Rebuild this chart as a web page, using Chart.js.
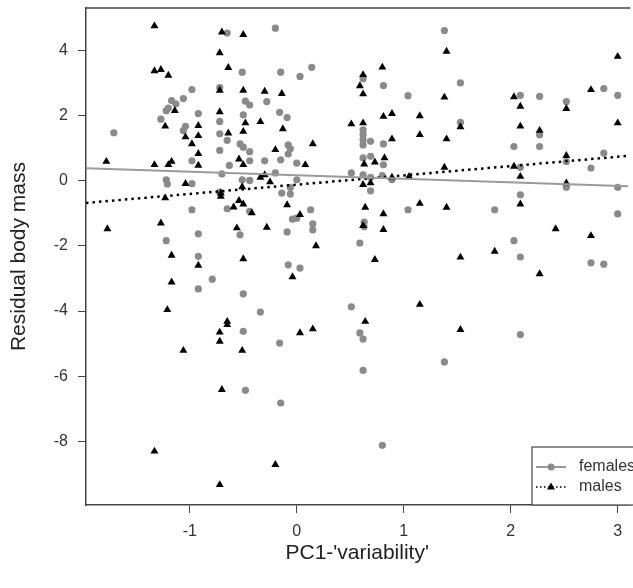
<!DOCTYPE html>
<html>
<head>
<meta charset="utf-8">
<title>Residual body mass vs PC1</title>
<script src="https://cdn.jsdelivr.net/npm/chart.js@4.4.1/dist/chart.umd.min.js"></script>
<style>
  html, body { margin: 0; padding: 0; background: #fff; }
  #wrap { width: 633px; height: 588px; }
</style>
</head>
<body>
<div id="wrap"><canvas id="scatterChart"></canvas></div>
<script>
// Data: [PC1, residual body mass]
const femalePoints = [
  [-0.65,4.53],[-0.51,3.33],[-0.98,2.80],[-0.72,2.86],[-1.06,2.52],[-1.17,2.46],[-1.13,2.36],
  [-1.20,2.23],[-1.22,2.15],[-0.48,2.44],[-0.44,2.32],[-0.28,2.43],[-0.92,2.06],[-0.50,2.02],
  [-1.27,1.89],[-0.72,1.82],[-1.04,1.67],[-1.06,1.54],[-1.71,1.47],[-0.72,1.44],[-0.65,1.24],
  [-0.53,1.13],[-0.50,1.03],[-0.44,0.89],[-0.72,0.93],[-0.98,0.61],[-0.63,0.47],[-0.44,0.61],
  [-0.30,0.61],
  [-0.20,4.68],[1.38,4.61],[-0.15,3.33],[0.03,3.20],[0.14,3.48],[0.62,3.13],[0.81,2.92],
  [1.04,2.61],[-0.16,2.10],[-0.09,1.94],[0.62,1.56],[0.62,1.41],[0.62,1.26],[0.62,1.10],
  [0.69,1.21],[0.81,1.13],[-0.08,1.10],[-0.06,0.98],[-0.08,0.82],[-0.15,0.64],[0.00,0.54],
  [0.62,0.70],[0.69,0.75],[0.81,0.49],
  [1.53,3.00],[2.09,2.62],[2.27,2.59],[2.87,2.83],[3.00,2.62],[2.52,2.43],[1.53,1.79],
  [2.27,1.41],[2.03,1.05],[2.27,1.05],[2.87,0.85],[2.52,0.59],[2.09,0.41],[2.75,0.39],
  [-1.22,0.03],[-1.21,-0.10],[-0.98,-0.09],[-0.70,0.21],[-0.51,0.03],[-0.44,0.01],[-0.72,-0.35],
  [-0.65,-0.86],[-0.44,-0.94],[-0.98,-0.89],[-0.92,-1.63],[-0.53,-1.66],[-1.22,-1.84],
  [-0.92,-2.32],[-0.79,-3.02],[-0.92,-3.32],[-0.50,-3.47],[-0.34,-4.03],[-0.50,-4.62],
  [-0.20,0.24],[0.00,0.03],[0.51,0.24],[0.62,0.18],[0.69,0.10],[0.80,0.16],[0.89,0.03],
  [0.69,-0.31],[-0.06,-0.21],[-0.14,-0.38],[-0.06,-0.41],[0.13,-0.89],[-0.04,-1.18],
  [0.00,-1.15],[0.15,-1.32],[0.15,-1.51],[-0.09,-1.57],[0.63,-1.27],[0.63,-1.41],[1.04,-0.89],
  [0.59,-1.91],[-0.08,-2.58],[0.03,-2.68],[0.51,-3.87],[0.59,-4.67],
  [2.52,-0.20],[3.00,-0.20],[2.09,-0.43],[1.85,-0.89],[3.00,-1.02],[2.03,-1.84],[2.09,-2.34],
  [2.75,-2.52],[2.87,-2.56],[2.09,-4.72],
  [-0.48,-6.43],[-0.16,-4.98],[0.62,-4.86],[1.38,-5.56],[0.62,-5.82],[-0.15,-6.82],[0.80,-8.12]
];

const malePoints = [
  [-1.33,4.75],[-0.70,4.56],[-0.50,4.48],[-0.72,3.92],[-1.33,3.37],[-1.27,3.41],[-1.20,3.23],
  [-0.64,3.47],[-0.72,2.77],[-0.50,2.77],[-0.30,2.74],[-1.14,2.15],[-0.72,2.11],[-0.34,1.81],
  [-1.23,1.67],[-0.92,1.69],[-0.48,1.77],[-0.50,1.51],[-1.04,1.34],[-0.92,1.38],[-0.64,1.46],
  [-0.98,1.13],[-0.92,0.83],[-1.78,0.59],[-1.33,0.49],[-1.20,0.49],[-1.17,0.59],[-0.92,0.47],
  [-0.54,0.66],[-0.50,0.49],
  [1.40,3.97],[0.62,3.25],[0.80,3.48],[0.59,2.91],[0.62,2.66],[-0.14,2.67],[1.38,2.56],
  [0.81,1.97],[0.89,2.06],[1.15,1.99],[0.51,1.74],[-0.13,1.59],[0.62,1.77],[1.15,1.41],
  [0.89,1.28],[1.40,1.28],[0.15,1.13],[-0.20,0.95],[0.08,0.49],[0.63,0.51],[0.73,0.57],
  [0.82,0.70],[1.38,0.41],
  [3.00,3.81],[2.75,2.79],[2.03,2.57],[2.09,2.28],[2.52,2.21],[2.09,1.67],[1.53,1.65],
  [2.27,1.54],[3.00,1.77],[2.52,0.77],[2.03,0.44],
  [-1.04,-0.09],[-1.23,-0.53],[-0.71,-0.48],[-0.71,-0.38],[-0.51,-0.19],[-0.34,0.10],
  [-0.25,-0.04],[-0.30,0.18],[-0.54,-0.61],[-0.59,-0.81],[-0.50,-0.72],[-0.42,-0.99],
  [-1.77,-1.48],[-1.27,-1.30],[-0.56,-1.45],[-0.28,-1.43],[-1.17,-2.29],[-0.92,-2.60],
  [-0.50,-2.40],[-1.17,-3.11],[-1.21,-3.96],[-0.65,-4.32],[-0.65,-4.42],[-0.72,-4.65],
  [0.62,-0.12],[0.69,-0.07],[1.05,0.13],[0.89,0.10],[-0.09,-0.74],[0.03,-1.04],[0.64,-0.82],
  [0.81,-1.02],[1.15,-0.70],[1.40,-0.82],[0.62,-1.38],[0.81,-1.50],[0.18,-2.00],[0.73,-2.42],
  [-0.04,-2.95],[1.15,-3.80],[0.64,-4.32],[0.15,-4.55],[0.03,-4.67],
  [2.09,0.13],[2.52,-0.07],[2.09,-0.72],[2.42,-1.48],[2.75,-1.69],[1.85,-2.17],[1.53,-2.35],
  [2.27,-2.86],[1.53,-4.57],
  [-0.72,-4.93],[-1.06,-5.21],[-0.51,-5.21],[-0.70,-6.41],[-1.33,-8.30],[-0.72,-9.33],
  [-0.20,-8.71]
];

// fitted regression lines (abline style: intercept, slope)
const femaleFit = [0.17, -0.11];
const maleFit = [-0.12, 0.285];

const legendLabels = ['females', 'males'];
const xTicks = [-1, 0, 1, 2, 3];
const yTicks = [-8, -6, -4, -2, 0, 2, 4];
const xRange = [-1.97, 3.1];
const yRange = [-9.95, 5.3];

const femaleColor = '#8a8a8a';
const femaleLineColor = '#9a9a9a';
const maleColor = '#000';
const axisColor = '#444';

Chart.defaults.font.family = '"Liberation Sans", Arial, sans-serif';

const toXY = p => ({ x: p[0], y: p[1] });
const fitLine = fit => xRange.map(x => ({ x: x, y: fit[0] + fit[1] * x }));

// R-like frame top line + legend box in the bottom right corner
const frameAndLegend = {
  id: 'frameAndLegend',
  afterDraw(chart) {
    const { ctx, chartArea: a } = chart;
    ctx.save();
    ctx.strokeStyle = axisColor;
    ctx.lineWidth = 1.5;
    ctx.beginPath();
    ctx.moveTo(a.left, a.top);
    ctx.lineTo(a.right + 2, a.top);
    ctx.stroke();

    const bx = 532, by = a.bottom - 58;
    ctx.fillStyle = '#fff';
    ctx.fillRect(bx, by, chart.width - bx + 5, a.bottom - by);
    ctx.lineWidth = 1.2;
    ctx.strokeRect(bx, by, chart.width - bx + 5, a.bottom - by);

    const rows = [by + 20, by + 40];
    ctx.font = '16px "Liberation Sans", Arial, sans-serif';
    ctx.textBaseline = 'middle';

    // females: solid grey + circle
    ctx.strokeStyle = femaleLineColor;
    ctx.lineWidth = 2;
    ctx.setLineDash([]);
    ctx.beginPath(); ctx.moveTo(bx + 4, rows[0]); ctx.lineTo(bx + 34, rows[0]); ctx.stroke();
    ctx.fillStyle = femaleColor;
    ctx.beginPath(); ctx.arc(bx + 19, rows[0], 3.5, 0, Math.PI * 2); ctx.fill();

    // males: dotted black + triangle
    ctx.strokeStyle = maleColor;
    ctx.lineWidth = 1.5;
    ctx.setLineDash([1.5, 2.5]);
    ctx.beginPath(); ctx.moveTo(bx + 4, rows[1]); ctx.lineTo(bx + 34, rows[1]); ctx.stroke();
    ctx.setLineDash([]);
    ctx.fillStyle = maleColor;
    ctx.beginPath();
    ctx.moveTo(bx + 19, rows[1] - 4.5);
    ctx.lineTo(bx + 23, rows[1] + 2.5);
    ctx.lineTo(bx + 15, rows[1] + 2.5);
    ctx.closePath(); ctx.fill();

    ctx.fillStyle = '#333';
    ctx.fillText(legendLabels[0], bx + 47, rows[0]);
    ctx.fillText(legendLabels[1], bx + 47, rows[1]);
    ctx.restore();
  }
};

new Chart(document.getElementById('scatterChart'), {
  type: 'scatter',
  data: {
    datasets: [
      {
        type: 'line', label: 'females fit', data: fitLine(femaleFit),
        borderColor: femaleLineColor, borderWidth: 2, pointRadius: 0, fill: false
      },
      {
        type: 'line', label: 'males fit', data: fitLine(maleFit),
        borderColor: maleColor, borderWidth: 2.5, borderDash: [2.5, 4], pointRadius: 0, fill: false
      },
      {
        label: legendLabels[1], data: malePoints.map(toXY),
        pointStyle: 'triangle', pointRadius: 4.6, backgroundColor: maleColor, borderWidth: 0
      },
      {
        label: legendLabels[0], data: femalePoints.map(toXY),
        pointStyle: 'circle', pointRadius: 3.6, backgroundColor: femaleColor, borderWidth: 0
      }
    ]
  },
  options: {
    responsive: true,
    maintainAspectRatio: false,
    animation: false,
    layout: { padding: { top: 8, right: 0, bottom: 0, left: 0 } },
    plugins: { legend: { display: false }, tooltip: { enabled: false } },
    scales: {
      x: {
        type: 'linear', min: xRange[0], max: xRange[1],
        afterBuildTicks: s => { s.ticks = xTicks.map(v => ({ value: v })); },
        afterFit: s => { s.height = 83; s.paddingLeft = 0; s.paddingRight = 0; },
        ticks: { font: { size: 16 }, color: '#333', padding: 9, maxRotation: 0, autoSkip: false },
        grid: { drawOnChartArea: false, drawTicks: true, tickLength: 8, color: axisColor },
        border: { display: true, color: axisColor, width: 1.5 },
        title: { display: true, text: "PC1-'variability'", font: { size: 21 }, color: '#222', padding: { top: 0, bottom: 22 } }
      },
      y: {
        type: 'linear', min: yRange[0], max: yRange[1],
        afterBuildTicks: s => { s.ticks = yTicks.map(v => ({ value: v })); },
        afterFit: s => { s.width = 86; s.paddingTop = 0; s.paddingBottom = 0; },
        ticks: { font: { size: 16 }, color: '#333', padding: 10, autoSkip: false },
        grid: { drawOnChartArea: false, drawTicks: true, tickLength: 8, color: axisColor },
        border: { display: true, color: axisColor, width: 1.5 },
        title: { display: true, text: 'Residual body mass', font: { size: 21 }, color: '#222', padding: { top: 7, bottom: 0 } }
      }
    }
  },
  plugins: [frameAndLegend]
});
</script>
</body>
</html>
